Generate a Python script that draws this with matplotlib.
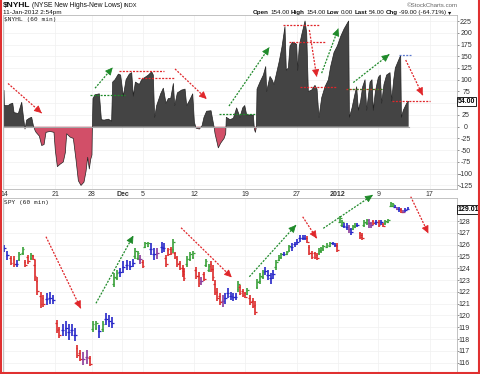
import numpy as np
import matplotlib
matplotlib.use("Agg")
import matplotlib.pyplot as plt

plt.rcParams['font.family'] = ['Liberation Sans', 'DejaVu Sans']

W, H = 480, 374

# ---- $NYHL (60 min), x in trading days from 14-Nov-2011 ----
nyhl_t = [0.00, 0.03, 0.42, 0.59, 0.85, 0.98, 1.40, 1.73, 1.89, 2.05, 2.21, 2.47, 2.70, 2.87, 3.03, 3.13,
          3.45, 3.68, 3.91, 4.10, 4.49, 4.88, 5.01, 5.21, 5.47, 5.79, 5.99, 6.12, 6.45, 6.77, 7.03, 7.26,
          7.52, 7.81, 8.01, 8.17, 8.33, 8.46, 8.59, 8.63, 8.69, 8.89, 9.31, 9.51, 9.77, 10.19, 10.51, 10.61,
          10.84, 11.17, 11.39, 11.65, 11.92, 12.24, 12.47, 12.63, 12.83, 13.22, 13.44, 13.77, 14.10, 14.42,
          14.58, 14.71, 14.91, 15.30, 15.56, 15.82, 16.05, 16.28, 16.54, 16.67, 16.93, 17.35, 17.68, 17.84,
          18.10, 18.43, 18.59, 18.75, 19.08, 19.34, 19.53, 19.79, 20.22, 20.38, 20.51, 20.61, 20.93, 21.16,
          21.49, 21.65, 21.71, 22.07, 22.40, 22.72,
          23.05, 23.31, 23.51, 23.70, 24.03, 24.35, 24.45, 24.55, 24.65, 24.71, 25.00, 25.33, 25.56, 25.65,
          25.98, 26.18, 26.37, 26.63, 26.89, 27.15, 27.44, 27.57, 27.77, 27.93, 28.19, 28.42, 28.58, 28.68,
          28.84, 29.10, 29.40, 29.56, 29.72, 30.05, 30.37, 30.57, 30.76, 31.03, 31.35, 31.68, 31.90, 32.23,
          32.56, 32.88, 33.21, 33.47, 33.66, 33.73, 33.99, 34.28, 34.44, 34.61, 34.83, 35.03, 35.26, 35.42,
          35.75, 35.94, 36.07, 36.27, 36.56, 36.75, 36.88, 37.11, 37.37, 37.70, 37.86, 38.06, 38.22, 38.51,
          38.74, 38.81, 39.00, 39.33, 39.52]
nyhl_v = [77, 45, 45, 48, 50, 30, 28, 52, 22, -5, 14, 18, 20, 2, -8, -12,
          -20, -40, -38, -12, -10, -12, -50, -85, -80, -75, -55, -15, -22, -25, -70, -115,
          -125, -118, -95, -65, -90, -70, -60, 0, 60, 68, 70, 15, 14, 16, 12, 95,
          100, 112, 110, 65, 100, 112, 115, 65, 95, 90, 100, 105, 110, 117,
          110, 20, 45, 70, 82, 50, 60, 60, 92, 45, 72, 78, 80, 45,
          55, 70, 10, -3, -5, 2, 20, 33, 34, 15, 0, -15, -45, -35,
          -25, -15, 20, 15, 18, 40,
          20, 40, 45, 25, 25, 25, -5, -12, 0, 80, 95, 110, 128, 75,
          107, 100, 90, 115, 140, 170, 213, 120, 125, 172, 180, 178, 175, 120,
          172, 198, 225, 200, 75, 78, 88, 80, 20, 62, 85, 100, 128, 158,
          172, 192, 208, 218, 225, 20, 40, 70, 85, 35, 55, 85, 100, 35,
          95, 100, 35, 75, 105, 110, 50, 90, 110, 115, 55, 100, 125, 140,
          152, 20, 35, 50, 54]
nyhl_ticks = [225, 200, 175, 150, 125, 100, 75, 50, 25, 0, -25, -50, -75, -100, -125]
nyhl_last = 54.00

# ---- SPY (60 min) bars ----
spy_t = [0.00, 0.33, 0.65, 0.98, 1.24, 1.50, 1.82, 2.08, 2.34, 2.67, 2.87, 3.00, 3.26, 3.58, 3.84, 4.17, 4.49, 4.82,
         5.14, 5.40, 5.73, 6.06, 6.32, 6.61, 6.93, 7.16, 7.42, 7.75, 8.07, 8.40,
         8.66, 8.99, 9.31, 9.64, 9.96, 10.29, 10.55, 10.74, 11.00, 11.33, 11.65, 11.98, 12.31, 12.63,
         12.79, 13.05, 13.28, 13.54, 13.77, 14.10, 14.32, 14.65, 14.98,
         15.39, 15.62, 15.82, 16.04, 16.27, 16.53, 16.69, 16.92, 17.18, 17.44, 17.57, 17.83, 18.16, 18.49,
         18.75, 19.01, 19.27, 19.53, 19.72, 19.98, 20.24, 20.37, 20.57, 20.83, 21.09, 21.35, 21.61, 21.87,
         22.13, 22.39, 22.65, 22.88, 23.04, 23.30, 23.56, 23.76, 24.02, 24.28, 24.54,
         24.74, 25.00, 25.26, 25.52, 25.78, 26.04, 26.30, 26.56, 26.82, 27.08, 27.34, 27.60, 27.86,
         28.12, 28.38, 28.64, 28.90, 29.16, 29.42, 29.62, 29.81, 30.07, 30.33, 30.59, 30.79,
         30.93, 31.19, 31.51, 31.84, 32.10, 32.36, 32.55,
         32.81, 33.01, 33.20, 33.46, 33.72, 33.92, 34.12, 34.31, 34.51, 34.77, 34.96, 35.16, 35.42,
         35.68, 35.87, 36.07, 36.33, 36.59, 36.85, 37.04, 37.24, 37.50,
         37.76, 37.96, 38.15, 38.41, 38.61, 38.80, 39.00, 39.19, 39.45]
spy_hi = [125.97, 125.5, 125.0, 125.0, 124.7, 125.4, 125.8, 124.7, 125.1, 125.3, 125.1, 124.7, 123.3, 122.0, 121.7, 121.9, 122.0, 121.7,
          119.6, 119.05, 119.3, 119.5, 119.3, 119.3, 118.9, 117.5, 117.1, 116.9, 117.1, 116.6,
          119.5, 119.5, 119.2, 119.5, 120.2, 120.0, 119.9, 123.6, 123.85, 124.0, 124.6, 124.7, 124.6, 124.8,
          125.7, 125.5, 125.1, 124.7, 126.25, 126.25, 126.1, 125.7, 125.7,
          126.25, 126.1, 125.1, 125.7, 125.8, 126.5, 125.4, 125.0, 124.6, 124.3, 124.0, 125.0, 125.4, 125.5,
          124.1, 123.7, 123.3, 123.7, 124.8, 124.4, 124.6, 124.3, 123.0, 122.3, 121.9, 121.7, 121.9, 122.3,
          122.0, 121.9, 121.9, 122.9, 122.6, 122.2, 122.0, 122.3, 121.7, 121.45, 121.2,
          123.1, 123.6, 123.85, 124.1, 123.85, 123.6, 123.85, 124.7, 125.1, 125.3, 125.4, 125.5, 126.0,
          126.1, 126.25, 126.5, 126.8, 126.8, 126.8, 126.7, 126.0, 125.5, 125.4, 125.3, 125.7,
          125.8, 126.0, 126.1, 126.25, 126.25, 126.1, 126.1,
          128.4, 128.1, 127.8, 127.8, 127.7, 127.4, 127.7, 127.8, 127.8, 127.1, 126.95, 128.1, 128.2,
          128.2, 127.9, 128.1, 128.1, 128.1, 128.1, 127.8, 128.1, 128.2,
          129.6, 129.5, 129.35, 129.2, 129.2, 129.07, 128.9, 129.07, 129.2]
spy_lo = [125.4, 124.7, 124.3, 124.1, 124.1, 124.6, 125.1, 124.1, 124.4, 124.7, 124.7, 122.9, 121.7, 120.6, 120.7, 120.9, 121.0, 121.0,
          118.5, 118.1, 118.3, 118.3, 117.9, 118.3, 117.8, 116.4, 116.1, 115.8, 115.9, 115.7,
          118.6, 118.8, 118.1, 118.6, 119.2, 119.05, 118.9, 122.4, 123.0, 123.3, 123.6, 123.85, 123.85, 124.1,
          124.8, 124.7, 124.4, 124.0, 125.7, 125.8, 125.1, 124.7, 124.8,
          125.3, 125.4, 124.1, 125.0, 125.1, 125.3, 124.8, 124.1, 123.85, 123.3, 122.9, 124.1, 124.6, 124.8,
          123.1, 122.4, 122.6, 122.9, 124.1, 123.7, 123.7, 122.9, 121.7, 121.2, 120.9, 120.7, 121.0, 121.45,
          121.3, 121.2, 121.3, 122.0, 121.7, 121.6, 121.45, 121.7, 120.9, 120.6, 120.04,
          122.2, 122.7, 123.1, 123.4, 123.0, 122.7, 123.1, 123.85, 124.6, 124.8, 125.0, 125.1, 125.4,
          125.5, 125.8, 126.0, 126.25, 126.4, 126.4, 126.1, 125.1, 124.8, 124.8, 124.7, 125.1,
          125.3, 125.5, 125.7, 125.8, 125.97, 125.8, 125.4,
          127.8, 127.5, 127.4, 127.2, 126.95, 126.8, 127.2, 127.4, 127.5, 126.5, 126.4, 127.5, 127.7,
          127.4, 127.4, 127.7, 127.7, 127.5, 127.7, 127.5, 127.7, 127.8,
          129.2, 129.2, 129.07, 128.9, 128.8, 128.65, 128.65, 128.8, 128.9]
spy_col = ("bbrrbggrrgrrrrrbbb" "rrbbbbbrrppr" "ggbgbbbggbbbbb" "ggprggbbp"
           "bbrrrgrrrrrggg" "rrprggrrrrrpbb" "bbbgrrrgrrr" "gggbbbbgggbgg" "bbbbbbrrrrrg"
           "ggggbbr" "ggbbpbggbrrgg" "pprbrbrgg" "ggbpbrpbb")
spy_ticks = [128, 127, 126, 125, 124, 123, 122, 121, 120, 119, 118, 117, 116]
spy_last = 129.01

# date axis
date_pos = [0, 5, 8.57, 11.57, 13.57, 18.57, 23.57, 28.57, 32.57, 36.57, 41.57]
date_lab = ["14", "21", "28", "Dec", "5", "12", "19", "27", "2012", "9", "17"]

# annotations drawn on the chart (x0, y0, x1, y1)
top_arrows = [((0.39, 92, 3.68, 29), 'red'), ((8.89, 82, 10.61, 126), 'green'),
              ((16.70, 123, 19.79, 59), 'red'), ((21.97, 44, 25.91, 169), 'green'),
              ((29.82, 206, 30.54, 106), 'red'), ((31.02, 114, 32.65, 209), 'green'),
              ((34.11, 94, 37.63, 154), 'green'), ((39.23, 142, 40.89, 67), 'red')]
top_levels = [((8.40, 11.82, 68), 'green'), ((11.23, 15.63, 118), 'red'), ((13.12, 16.70, 103), 'red'),
              ((21.00, 24.50, 26), 'green'), ((27.28, 30.86, 216), 'red'), ((27.86, 31.45, 181), 'red'),
              ((28.91, 32.55, 85), 'red'), ((33.40, 37.04, 80), 'red'), ((33.40, 37.04, 80), 'green2'),
              ((38.60, 39.72, 153), 'blue'), ((37.86, 41.60, 55), 'red')]
spy_arrows = [((4.10, 126.67, 7.49, 120.60), 'red'), ((8.98, 121.03, 12.63, 126.76), 'green'),
              ((17.29, 127.43, 22.24, 123.23), 'red'), ((23.96, 123.28, 28.52, 127.66), 'green'),
              ((29.17, 128.36, 30.54, 126.53), 'red'), ((31.18, 127.38, 36.01, 130.2), 'green'),
              ((39.72, 130.06, 41.44, 126.96), 'red')]

ann_col = {'red': '#e0262a', 'green': '#1f8a2a', 'green2': '#1f8a2a', 'blue': '#5a78d0'}
bar_col = {'r': '#dc2a2a', 'b': '#2626c8', 'g': '#38a038', 'p': '#8a3a9a'}

fig = plt.figure(figsize=(W / 100, H / 100), dpi=100)
fig.patch.set_facecolor('white')
ax1 = fig.add_axes([3 / W, 1 - 189 / H, 454 / W, 174 / H])
ax2 = fig.add_axes([3 / W, 1 - 372 / H, 454 / W, 174 / H])

for ax in (ax1, ax2):
    ax.set_xlim(-0.1, 44.24)
    for sp in ax.spines.values():
        sp.set_color('#b8b8b8')
        sp.set_linewidth(0.6)
    ax.set_xticks(date_pos)
    ax.grid(True, color='#f0f0f0', lw=0.5)
    ax.set_axisbelow(True)
    ax.yaxis.tick_right()

ax1.set_ylim(-132.6, 237.8)
ax2.set_ylim(115.21, 129.95)

# NYHL area
t = np.array(nyhl_t)
v = np.array(nyhl_v, dtype=float)
ax1.fill_between(t, v, 0, where=v >= 0, interpolate=True, color='#444444', lw=0)
ax1.fill_between(t, v, 0, where=v <= 0, interpolate=True, color='#d24f68', lw=0)
ax1.plot(t, v, color='#222222', lw=0.5)
ax1.plot([t[0], t[-1]], [0, 0], color='#a8a8a8', lw=0.8)

# SPY bars
assert len(spy_t) == len(spy_hi) == len(spy_lo) == len(spy_col)
for ti, hi, lo, c in zip(spy_t, spy_hi, spy_lo, spy_col):
    col = bar_col[c]
    f_open = {'r': 0.75, 'g': 0.25}.get(c, 0.5)
    f_close = 1 - f_open
    ax2.vlines(ti, lo, hi, color=col, lw=1.2)
    ax2.hlines(lo + f_open * (hi - lo), ti - 0.15, ti, color=col, lw=0.9)
    ax2.hlines(lo + f_close * (hi - lo), ti, ti + 0.15, color=col, lw=0.9)


def dashed_arrow(ax, seg, color):
    x0, y0, x1, y1 = seg
    ax.plot([x0, x1], [y0, y1], color=color, lw=0.9, ls=(0, (1.6, 1.1)), clip_on=False)
    p0 = ax.transData.transform((x0, y0))
    p1 = ax.transData.transform((x1, y1))
    d = (p1 - p0) / np.hypot(*(p1 - p0))
    back = ax.transData.inverted().transform(p1 - 4 * d)
    ax.annotate('', xy=(x1, y1), xytext=back, annotation_clip=False,
                arrowprops=dict(arrowstyle='-|>,head_length=0.45,head_width=0.22',
                                color=color, lw=0.6, shrinkA=0, shrinkB=0))


for seg, c in top_arrows:
    dashed_arrow(ax1, seg, ann_col[c])
for (x0, x1, y), c in top_levels:
    ls = (1.6, (1.6, 1.6)) if c == 'green2' else (0, (1.6, 1.1))
    ax1.plot([x0, x1], [y, y], color=ann_col[c], lw=0.9, ls=ls)
for seg, c in spy_arrows:
    dashed_arrow(ax2, seg, ann_col[c])

# axes ticks / labels
ax1.set_yticks(nyhl_ticks, ['' if k == 50 else str(k) for k in nyhl_ticks])
ax1.tick_params(axis='y', length=1.5, width=0.5, colors='#666666', labelcolor='#333333', labelsize=5, pad=5)
for lab in ax1.get_yticklabels():
    lab.set_horizontalalignment('center')
ax2.set_yticks(spy_ticks, [str(k) for k in spy_ticks])
ax2.tick_params(axis='y', length=1.5, width=0.5, colors='#666666', labelcolor='#333333', labelsize=5, pad=3.6)
for lab in ax2.get_yticklabels():
    lab.set_horizontalalignment('center')

ax1.set_xticklabels(date_lab)
ax1.tick_params(axis='x', length=0, labelsize=5, pad=1.5, labelcolor='#333333')
for lab in ax1.get_xticklabels():
    if lab.get_text() in ('Dec', '2012'):
        lab.set_fontweight('bold')
ax2.tick_params(axis='x', length=0, labelbottom=False)

# last-value tags
tag = dict(boxstyle='square,pad=0.15', fc='white', ec='black', lw=0.6)
ax1.text(1.002, nyhl_last, f"{nyhl_last:.2f}", transform=ax1.get_yaxis_transform(), fontsize=5,
         fontweight='bold', ha='left', va='center', bbox=tag, clip_on=False, zorder=10)
ax2.text(1.002, spy_last, f"{spy_last:.2f}", transform=ax2.get_yaxis_transform(), fontsize=5,
         fontweight='bold', ha='left', va='center', bbox=tag, clip_on=False, zorder=10)

# panel titles
ax1.text(4 / W, 1 - 19.5 / H, "$NYHL (60 min)", transform=fig.transFigure, fontsize=4.4,
         family='DejaVu Sans Mono', va='center', color='#222222')
ax2.text(4 / W, 1 - 202 / H, "SPY (60 min)", transform=fig.transFigure, fontsize=4.4,
         family='DejaVu Sans Mono', va='center', color='#222222')

# header
renderer = fig.canvas.get_renderer()


def text_run(x_px, y_px, parts, gap=1.4):
    x = x_px
    for s, size, weight in parts:
        tx = fig.text(x / W, 1 - y_px / H, s, fontsize=size, fontweight=weight, va='center',
                      ha='left', color='#111111')
        bb = tx.get_window_extent(renderer=renderer)
        x = bb.x1 + gap


text_run(3, 5.8, [("$NYHL", 6, 'bold'), ("(NYSE New Highs-New Lows)", 4.9, 'normal'), ("INDX", 4.1, 'normal')])
fig.text(3 / W, 1 - 12.6 / H, "11-Jan-2012 2:54pm", fontsize=4.6, va='center', ha='left', color='#111111')
hs = 4.5
text_run(253, 12.8, [("Open", hs, 'bold'), ("154.00", hs, 'normal'), ("High", hs, 'bold'),
                     ("154.00", hs, 'normal'), ("Low", hs, 'bold'), ("0.00", hs, 'normal'),
                     ("Last", hs, 'bold'), ("54.00", hs, 'normal'), ("Chg", hs, 'bold'),
                     ("-99.00 (-64.71%)", hs, 'normal'), ("▾", 4.6, 'normal')])
fig.text(458 / W, 1 - 5.2 / H, "©StockCharts.com", fontsize=4.4, va='center', ha='right', color='#666666')

# red frame
for xs, ys in [([0.5 / W, 0.5 / W], [0, 1]), ([1 - 1 / W, 1 - 1 / W], [0, 1]), ([0, 1], [1 / H, 1 / H])]:
    fig.add_artist(plt.Line2D(xs, ys, color='#e03030', lw=1.5, transform=fig.transFigure))

fig.savefig("out.png", dpi=100, facecolor='white')
